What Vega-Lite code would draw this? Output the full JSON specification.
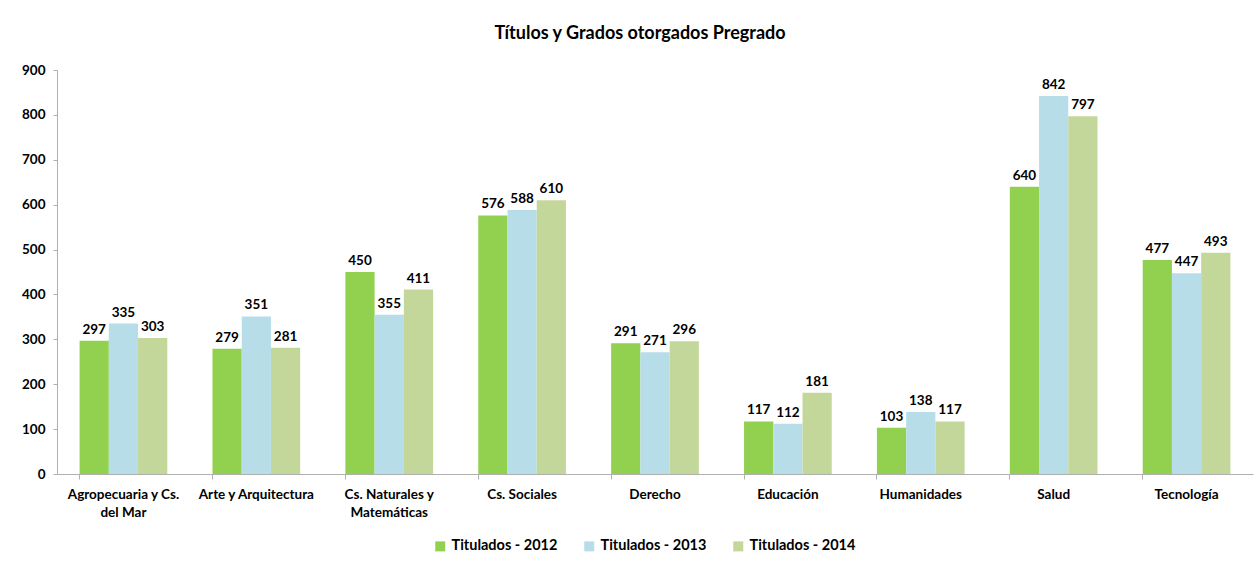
{
  "$schema": "https://vega.github.io/schema/vega-lite/v6.json",
  "autosize": {"type": "none"},
  "width": 1196,
  "height": 404,
  "padding": {"left": 57, "top": 70, "right": 5, "bottom": 91},
  "background": "white",
  "title": {
    "text": "Títulos y Grados otorgados Pregrado",
    "font": "Lato",
    "fontSize": 18,
    "fontWeight": "bold",
    "color": "#000000",
    "anchor": "middle",
    "dx": -15,
    "offset": 20
  },
  "data": {
    "values": [
      {"categoria": "Agropecuaria y Cs. del Mar", "serie": "Titulados - 2012", "valor": 297},
      {"categoria": "Agropecuaria y Cs. del Mar", "serie": "Titulados - 2013", "valor": 335},
      {"categoria": "Agropecuaria y Cs. del Mar", "serie": "Titulados - 2014", "valor": 303},
      {"categoria": "Arte y Arquitectura", "serie": "Titulados - 2012", "valor": 279},
      {"categoria": "Arte y Arquitectura", "serie": "Titulados - 2013", "valor": 351},
      {"categoria": "Arte y Arquitectura", "serie": "Titulados - 2014", "valor": 281},
      {"categoria": "Cs. Naturales y Matemáticas", "serie": "Titulados - 2012", "valor": 450},
      {"categoria": "Cs. Naturales y Matemáticas", "serie": "Titulados - 2013", "valor": 355},
      {"categoria": "Cs. Naturales y Matemáticas", "serie": "Titulados - 2014", "valor": 411},
      {"categoria": "Cs. Sociales", "serie": "Titulados - 2012", "valor": 576},
      {"categoria": "Cs. Sociales", "serie": "Titulados - 2013", "valor": 588},
      {"categoria": "Cs. Sociales", "serie": "Titulados - 2014", "valor": 610},
      {"categoria": "Derecho", "serie": "Titulados - 2012", "valor": 291},
      {"categoria": "Derecho", "serie": "Titulados - 2013", "valor": 271},
      {"categoria": "Derecho", "serie": "Titulados - 2014", "valor": 296},
      {"categoria": "Educación", "serie": "Titulados - 2012", "valor": 117},
      {"categoria": "Educación", "serie": "Titulados - 2013", "valor": 112},
      {"categoria": "Educación", "serie": "Titulados - 2014", "valor": 181},
      {"categoria": "Humanidades", "serie": "Titulados - 2012", "valor": 103},
      {"categoria": "Humanidades", "serie": "Titulados - 2013", "valor": 138},
      {"categoria": "Humanidades", "serie": "Titulados - 2014", "valor": 117},
      {"categoria": "Salud", "serie": "Titulados - 2012", "valor": 640},
      {"categoria": "Salud", "serie": "Titulados - 2013", "valor": 842},
      {"categoria": "Salud", "serie": "Titulados - 2014", "valor": 797},
      {"categoria": "Tecnología", "serie": "Titulados - 2012", "valor": 477},
      {"categoria": "Tecnología", "serie": "Titulados - 2013", "valor": 447},
      {"categoria": "Tecnología", "serie": "Titulados - 2014", "valor": 493}
    ]
  },
  "encoding": {
    "x": {
      "field": "categoria",
      "type": "nominal",
      "sort": null,
      "scale": {"paddingInner": 0.34, "paddingOuter": 0.17},
      "axis": {
        "title": null,
        "labelAngle": 0,
        "labelFont": "Lato",
        "labelFontSize": 13.5,
        "labelFontWeight": "bold",
        "labelColor": "#000000",
        "labelPadding": 8,
        "labelLineHeight": 18,
        "labelBaseline": "top",
        "labelExpr": "datum.label == 'Agropecuaria y Cs. del Mar' ? ['Agropecuaria y Cs.', 'del Mar'] : datum.label == 'Cs. Naturales y Matemáticas' ? ['Cs. Naturales y', 'Matemáticas'] : datum.label",
        "domainColor": "#b0b0b0",
        "tickColor": "#b0b0b0",
        "tickSize": 5,
        "bandPosition": 0
      }
    },
    "xOffset": {
      "field": "serie",
      "type": "nominal",
      "scale": {"paddingInner": 0, "paddingOuter": 0}
    },
    "y": {
      "field": "valor",
      "type": "quantitative",
      "scale": {"domain": [0, 900]},
      "axis": {
        "title": null,
        "values": [0, 100, 200, 300, 400, 500, 600, 700, 800, 900],
        "grid": false,
        "labelFont": "Lato",
        "labelFontSize": 13.5,
        "labelFontWeight": "bold",
        "labelColor": "#000000",
        "labelPadding": 8,
        "domainColor": "#b0b0b0",
        "tickColor": "#b0b0b0",
        "tickSize": 4
      }
    }
  },
  "layer": [
    {
      "mark": {"type": "bar", "stroke": null},
      "encoding": {
        "color": {
          "field": "serie",
          "type": "nominal",
          "scale": {
            "domain": ["Titulados - 2012", "Titulados - 2013", "Titulados - 2014"],
            "range": ["#92d050", "#b7dee8", "#c4d79b"]
          },
          "legend": {
            "title": null,
            "orient": "none",
            "direction": "horizontal",
            "legendX": 376,
            "legendY": 469,
            "symbolType": "square",
            "symbolSize": 100,
            "symbolStrokeWidth": 0,
            "labelFont": "Lato",
            "labelFontSize": 14.5,
            "labelFontWeight": "bold",
            "labelColor": "#000000",
            "columnPadding": 24,
            "labelOffset": 4
          }
        }
      }
    },
    {
      "mark": {
        "type": "text",
        "baseline": "bottom",
        "dy": -4,
        "font": "Lato",
        "fontSize": 13.5,
        "fontWeight": "bold",
        "color": "#000000"
      },
      "encoding": {
        "text": {"field": "valor", "type": "quantitative"}
      }
    }
  ],
  "config": {
    "view": {"stroke": null}
  }
}
